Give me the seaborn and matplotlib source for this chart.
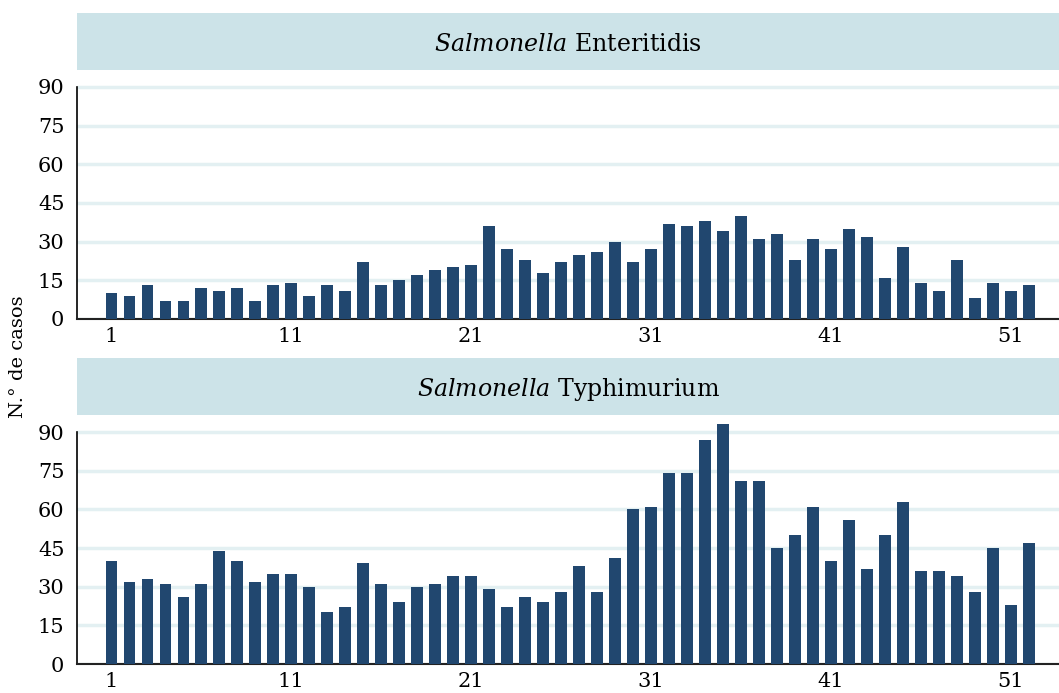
import numpy as np
import pandas as pd
import matplotlib
matplotlib.use("Agg")
import matplotlib.pyplot as plt
import seaborn as sns

# Weekly case counts (weeks 1-52)
weeks = list(range(1, 53))
enteritidis = [10, 9, 13, 7, 7, 12, 11, 12, 7, 13,
               14, 9, 13, 11, 22, 13, 15, 17, 19, 20,
               21, 36, 27, 23, 18, 22, 25, 26, 30, 22,
               27, 37, 36, 38, 34, 40, 31, 33, 23, 31,
               27, 35, 32, 16, 28, 14, 11, 23, 8, 14,
               11, 13]
typhimurium = [40, 32, 33, 31, 26, 31, 44, 40, 32, 35,
               35, 30, 20, 22, 39, 31, 24, 30, 31, 34,
               34, 29, 22, 26, 24, 28, 38, 28, 41, 60,
               61, 74, 74, 87, 93, 71, 71, 45, 50, 61,
               40, 56, 37, 50, 63, 36, 36, 34, 28, 45,
               23, 47]
panel_titles = [("Salmonella", "Enteritidis"), ("Salmonella", "Typhimurium")]
y_ticks = [0, 15, 30, 45, 60, 75, 90]
x_tick_labels = [1, 11, 21, 31, 41, 51]

bar_color = "#21476f"
strip_color = "#cce3e8"
grid_color = "#e3f0f2"

sns.set_style("white")
plt.rcParams["font.family"] = ["DejaVu Serif"]
plt.rcParams["mathtext.fontset"] = "dejavuserif"
plt.rcParams["text.color"] = "black"
plt.rcParams["xtick.color"] = "black"
plt.rcParams["ytick.color"] = "black"
plt.rcParams["axes.labelcolor"] = "black"

W, H = 1059, 693
fig = plt.figure(figsize=(W / 100, H / 100), dpi=100)

def fx(px):
    return px / W

def fy(py):
    return 1 - py / H

left, right = 77, 1059
# (strip top, strip bottom, axes bottom) in pixels
panels = [(13, 70, 319), (358, 415, 664)]
series = [enteritidis, typhimurium]

for (st, sb, ab), vals, (gen, ser) in zip(panels, series, panel_titles):
    # header strip
    sax = fig.add_axes([fx(left), fy(sb), fx(right - left), (sb - st) / H])
    sax.set_facecolor(strip_color)
    for s in sax.spines.values():
        s.set_visible(False)
    sax.set_xticks([])
    sax.set_yticks([])
    sax.text(0.5, 0.45, rf"$\it{{{gen}}}$ {ser}", ha="center", va="center",
             fontsize=17, transform=sax.transAxes)

    ax = fig.add_axes([fx(left), fy(ab), fx(right - left), (ab - sb) / H])
    df = pd.DataFrame({"week": weeks, "cases": vals})
    sns.barplot(data=df, x="week", y="cases", color=bar_color, width=0.63,
                saturation=1, linewidth=0, ax=ax, zorder=3)
    ax.set_ylim(0, 90 * (ab - sb) / (ab - (sb + 17)))
    ax.set_xlim(-1.9, 52.67)
    ax.set_yticks(y_ticks)
    ax.set_xticks([w - 1 for w in x_tick_labels])
    ax.set_xticklabels(x_tick_labels)
    ax.tick_params(axis="y", length=7, width=1, direction="out", labelsize=15,
                   pad=2, color="black")
    ax.tick_params(axis="x", length=0, labelsize=15, pad=6)
    ax.yaxis.grid(True, color=grid_color, lw=2.5, zorder=0)
    ax.set_axisbelow(True)
    ax.set_xlabel("")
    ax.set_ylabel("")
    ax.spines["top"].set_visible(False)
    ax.spines["right"].set_visible(False)
    ax.spines["left"].set_bounds(0, 90)
    ax.spines["left"].set_linewidth(1.2)
    ax.spines["left"].set_color("black")
    ax.spines["bottom"].set_linewidth(1.5)
    ax.spines["bottom"].set_color("#222222")

fig.text(fx(18), fy(357), "N.° de casos", rotation=90, ha="center", va="center",
         fontsize=14)

fig.savefig("out.png", dpi=100)
